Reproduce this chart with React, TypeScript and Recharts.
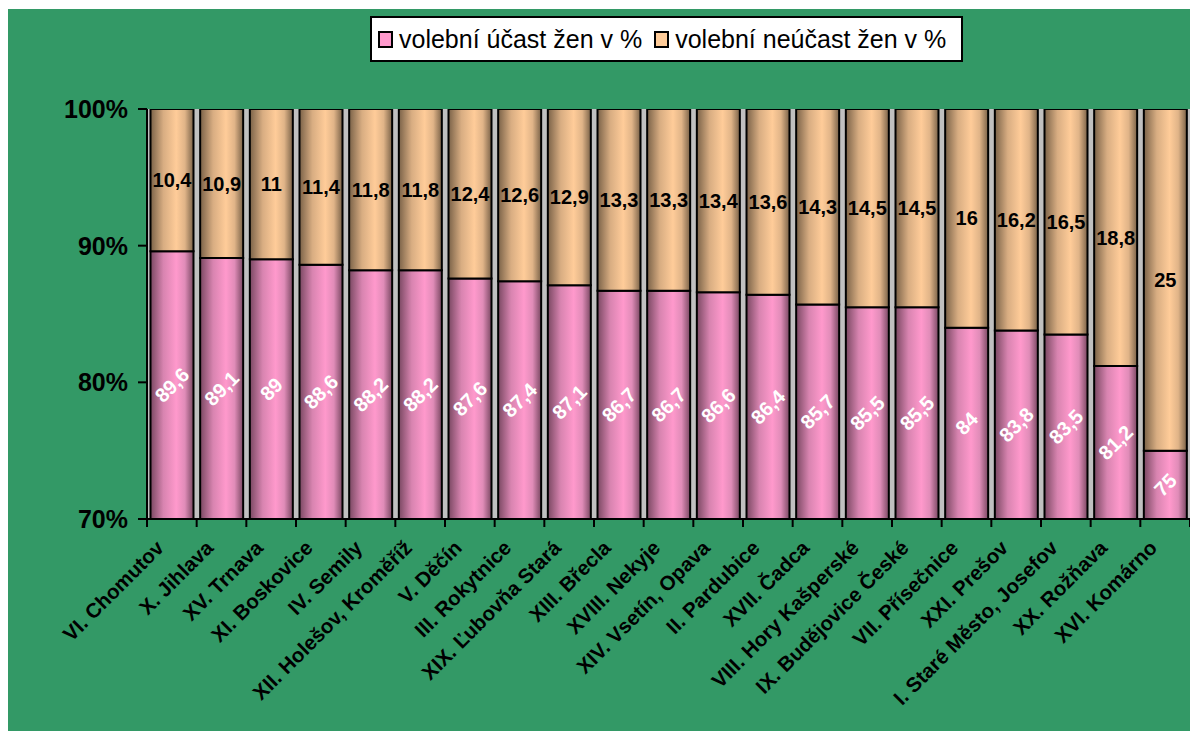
import {
  BarChart,
  Bar,
  XAxis,
  YAxis,
  CartesianGrid,
  Legend,
  LabelList,
} from "recharts";

const okrsky = [
  "VI. Chomutov",
  "X. Jihlava",
  "XV. Trnava",
  "XI. Boskovice",
  "IV. Semily",
  "XII. Holešov, Kroměříž",
  "V. Děčín",
  "III. Rokytnice",
  "XIX. Ľubovňa Stará",
  "XIII. Břecla",
  "XVIII. Nekyje",
  "XIV. Vsetín, Opava",
  "II. Pardubice",
  "XVII. Čadca",
  "VIII. Hory Kašperské",
  "IX. Budějovice České",
  "VII. Přísečnice",
  "XXI. Prešov",
  "I. Staré Město, Josefov",
  "XX. Rožňava",
  "XVI. Komárno",
];

const ucast = [
  89.6, 89.1, 89, 88.6, 88.2, 88.2, 87.6, 87.4, 87.1, 86.7, 86.7, 86.6, 86.4,
  85.7, 85.5, 85.5, 84, 83.8, 83.5, 81.2, 75,
];

const neucast = [
  10.4, 10.9, 11, 11.4, 11.8, 11.8, 12.4, 12.6, 12.9, 13.3, 13.3, 13.4, 13.6,
  14.3, 14.5, 14.5, 16, 16.2, 16.5, 18.8, 25,
];

const yTicks = [70, 80, 90, 100];

const data = okrsky.map((name, i) => ({
  name,
  ucast: ucast[i],
  neucast: neucast[i],
}));

const W = 1190;
const H = 722;
const PLOT_LEFT = 139;
const PLOT_RIGHT = 8;
const PLOT_TOP = 100;
const LEGEND_H = 46;
const X_AXIS_H = 212;
const BAND = (W - PLOT_LEFT - PLOT_RIGHT) / okrsky.length;
const FONT = "'Liberation Sans', Arial, sans-serif";

const fmt = (v: number) => String(v).replace(".", ",");

function XTick(props: any) {
  const { x, y, payload, index } = props;
  const isLast = index === okrsky.length - 1;
  return (
    <g>
      <line x1={x - BAND / 2} y1={y - 8} x2={x - BAND / 2} y2={y} stroke="#000" strokeWidth={2} />
      {isLast && (
        <line x1={x + BAND / 2} y1={y - 8} x2={x + BAND / 2} y2={y} stroke="#000" strokeWidth={2} />
      )}
      <g transform={`translate(${x - 17},${y + 12}) rotate(-45)`}>
        <text
          x={0}
          y={0}
          dy="0.7em"
          textAnchor="end"
          fontFamily={FONT}
          fontWeight="bold"
          fontSize={20.5}
          fill="#000"
        >
          {payload.value}
        </text>
      </g>
    </g>
  );
}

function PinkLabel(props: any) {
  const { x, y, width, height, value } = props;
  const cx = x + width / 2;
  const cy = y + height / 2;
  return (
    <text
      x={cx}
      y={cy}
      textAnchor="middle"
      dominantBaseline="central"
      transform={`rotate(-45, ${cx}, ${cy})`}
      fontFamily={FONT}
      fontWeight="bold"
      fontSize={20}
      fill="#fff"
    >
      {fmt(value)}
    </text>
  );
}

function LegendBox() {
  const item = (color: string, label: string) => (
    <span style={{ display: "inline-flex", alignItems: "center", marginRight: 12 }}>
      <span
        style={{
          display: "inline-block",
          width: 11,
          height: 13,
          background: color,
          border: "2px solid #000",
          marginRight: 6,
        }}
      />
      {label}
    </span>
  );
  return (
    <div
      style={{
        background: "#fff",
        border: "2px solid #000",
        height: LEGEND_H - 4,
        boxSizing: "content-box",
        display: "flex",
        alignItems: "center",
        paddingLeft: 6,
        fontFamily: FONT,
        fontSize: 25,
        color: "#000",
        whiteSpace: "nowrap",
      }}
    >
      {item("#FF99CC", "volební účast žen v %")}
      {item("#FFCC99", "volební neúčast žen v %")}
    </div>
  );
}

export default function App() {
  return (
    <div style={{ width: W, height: H, marginTop: 1, background: "#339966" }}>
      <BarChart
        width={W}
        height={H}
        data={data}
        margin={{ top: PLOT_TOP - LEGEND_H, right: PLOT_RIGHT, left: 0, bottom: 0 }}
        barCategoryGap={3.5}
      >
        <defs>
          <linearGradient id="pinkGrad" x1="0" y1="0" x2="1" y2="0">
            <stop offset="0" stopColor="#7a4862" />
            <stop offset="0.3" stopColor="#d884b0" />
            <stop offset="0.6" stopColor="#FF99CC" />
            <stop offset="0.8" stopColor="#e08cb8" />
            <stop offset="1" stopColor="#7a4862" />
          </linearGradient>
          <linearGradient id="tanGrad" x1="0" y1="0" x2="1" y2="0">
            <stop offset="0" stopColor="#7a6248" />
            <stop offset="0.3" stopColor="#d8ad82" />
            <stop offset="0.6" stopColor="#FFCC99" />
            <stop offset="0.8" stopColor="#e0b488" />
            <stop offset="1" stopColor="#7a6248" />
          </linearGradient>
        </defs>
        <CartesianGrid fill="#C0C0C0" horizontal={false} vertical={false} />
        <XAxis
          dataKey="name"
          interval={0}
          height={X_AXIS_H}
          tickLine={false}
          axisLine={{ stroke: "#000", strokeWidth: 2 }}
          tick={<XTick />}
        />
        <YAxis
          width={PLOT_LEFT}
          domain={[70, 100]}
          allowDataOverflow
          ticks={yTicks}
          tickFormatter={(v: number) => `${v}%`}
          axisLine={{ stroke: "#000", strokeWidth: 2 }}
          tickLine={{ stroke: "#000", strokeWidth: 2 }}
          tickSize={9}
          tickMargin={10}
          tick={{ fill: "#000", fontFamily: FONT, fontWeight: "bold", fontSize: 25 }}
        />
        <Legend
          verticalAlign="top"
          align="left"
          wrapperStyle={{ top: 7, left: 362, width: 593 }}
          content={() => <LegendBox />}
        />
        <Bar
          dataKey="ucast"
          stackId="a"
          fill="url(#pinkGrad)"
          stroke="#000"
          strokeWidth={2}
          isAnimationActive={false}
        >
          <LabelList dataKey="ucast" content={<PinkLabel />} />
        </Bar>
        <Bar
          dataKey="neucast"
          stackId="a"
          fill="url(#tanGrad)"
          stroke="#000"
          strokeWidth={2}
          isAnimationActive={false}
        >
          <LabelList
            dataKey="neucast"
            position="center"
            formatter={(v: any) => fmt(v)}
            fill="#000"
            fontFamily={FONT}
            fontWeight="bold"
            fontSize={20}
          />
        </Bar>
      </BarChart>
    </div>
  );
}
